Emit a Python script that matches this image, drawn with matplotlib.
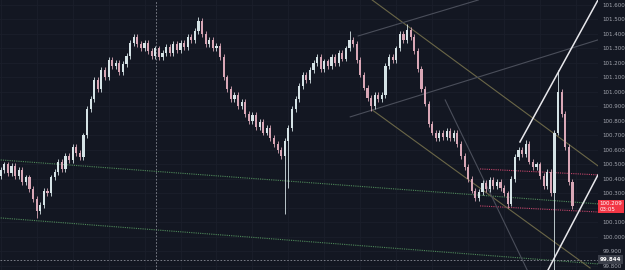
import matplotlib
matplotlib.use("Agg")
import matplotlib.pyplot as plt
import matplotlib.transforms as mtransforms

# closing prices, one per candle
closes = [
    100.46, 100.50, 100.44, 100.49, 100.42, 100.46, 100.38, 100.41, 100.33, 100.26,
    100.18, 100.22, 100.32, 100.30, 100.41, 100.45, 100.52, 100.47, 100.56, 100.53,
    100.62, 100.58, 100.55, 100.70, 100.88, 100.95, 101.08, 101.02, 101.15, 101.10,
    101.22, 101.18, 101.20, 101.14, 101.19, 101.25, 101.34, 101.38, 101.33, 101.30,
    101.34, 101.28, 101.25, 101.30, 101.24, 101.27, 101.31, 101.27, 101.33, 101.29,
    101.34, 101.31, 101.38, 101.36, 101.42, 101.49, 101.40, 101.33, 101.36, 101.30,
    101.32, 101.24, 101.10, 101.02, 100.95, 100.98, 100.90, 100.93, 100.85, 100.80,
    100.84, 100.76, 100.79, 100.72, 100.75, 100.68, 100.64, 100.60, 100.56, 100.66,
    100.75, 100.88, 100.95, 101.04, 101.12, 101.08, 101.15, 101.20, 101.24, 101.16,
    101.21, 101.18, 101.24, 101.20, 101.27, 101.23, 101.30, 101.36, 101.33, 101.22,
    101.12, 101.03, 100.96, 100.90, 100.98, 100.95, 100.98, 101.18, 101.24, 101.22,
    101.30, 101.40, 101.36, 101.43, 101.38, 101.28, 101.16, 101.02, 100.92, 100.78,
    100.72, 100.68, 100.72, 100.69, 100.73, 100.68, 100.72, 100.64, 100.56, 100.48,
    100.40, 100.32, 100.27, 100.31, 100.37, 100.33, 100.39, 100.35, 100.38, 100.34,
    100.30, 100.23, 100.40, 100.55, 100.60, 100.57, 100.64, 100.52, 100.48, 100.50,
    100.42, 100.35, 100.45, 100.30, 100.72, 101.00, 100.85, 100.62, 100.38, 100.21,
]
first_open = 100.42

# long wicks: candle index -> price
spike_highs = {55: 101.52, 97: 101.42, 113: 101.47, 155: 101.15, 146: 100.67}
spike_lows = {10: 100.13, 79: 100.16, 80: 100.34, 103: 100.87, 141: 100.20, 154: 99.75}

# right axis (100.200 sits under the price label)
price_ticks = [101.6, 101.5, 101.4, 101.3, 101.2, 101.1, 101.0, 100.9, 100.8, 100.7,
               100.6, 100.5, 100.4, 100.3, 100.2, 100.1, 100.0, 99.9, 99.8]
hidden_tick = 100.2
last_price = 100.209
countdown = "03:05"
cross_price = 99.844
cross_index = 43.1

# drawings: (index, price) end points
green_lines = [[(0, 100.531), (166.1, 100.228)], [(0, 100.131), (166.1, 99.814)]]
pink_lines = [[(133.3, 100.469), (166.1, 100.428)], [(133.3, 100.214), (166.1, 100.172)]]
olive_lines = [[(103.3, 101.634), (166.1, 100.49)], [(103.3, 100.876), (163.9, 99.786)]]
grey_lines = [[(99.4, 101.386), (132.8, 101.634)], [(97.2, 100.828), (166.1, 101.359)],
              [(123.6, 100.945), (146.4, 99.772)]]
white_lines = [[(144.4, 100.655), (166.1, 101.634)], [(152.2, 99.772), (166.1, 100.428)]]

bg = "#131722"
up_col = "#d5e3e6"
down_col = "#d9a7b6"

opens = [first_open] + closes[:-1]

fig = plt.figure(figsize=(6.25, 2.7), dpi=100, facecolor=bg)
ax = fig.add_axes([0, 0, 598 / 625, 1])
ax.set_facecolor(bg)
ax.set_xlim(-0.2, 166.1)
ax.set_ylim(99.772, 101.634)

# faint grid
for p in price_ticks:
    ax.axhline(p, color="#1b1f2b", lw=0.6, zorder=0)
for gx in range(0, 170, 10):
    ax.axvline(gx, color="#1b1f2b", lw=0.6, zorder=0)

# drawings under the candles
for seg in green_lines:
    ax.plot([seg[0][0], seg[1][0]], [seg[0][1], seg[1][1]], color="#4f8a5a", lw=0.8,
            ls=(0, (1, 1)), zorder=1)
for seg in pink_lines:
    ax.plot([seg[0][0], seg[1][0]], [seg[0][1], seg[1][1]], color="#c2456a", lw=0.8,
            ls=(0, (1, 1)), zorder=1)
for seg in olive_lines:
    ax.plot([seg[0][0], seg[1][0]], [seg[0][1], seg[1][1]], color="#6a6647", lw=0.8, zorder=1)
for seg in grey_lines:
    ax.plot([seg[0][0], seg[1][0]], [seg[0][1], seg[1][1]], color="#4a4e5a", lw=0.8, zorder=1)

# crosshair
ax.axhline(cross_price, color="#8a8d96", lw=0.6, ls=(0, (2, 2)), zorder=1)
ax.axvline(cross_index, color="#8a8d96", lw=0.6, ls=(0, (2, 2)), zorder=1)

# candles
for i, (o, c) in enumerate(zip(opens, closes)):
    col = up_col if c >= o else down_col
    hi = spike_highs.get(i, max(o, c) + 0.02)
    lo = spike_lows.get(i, min(o, c) - 0.02)
    ax.vlines(i, lo, hi, color=col, lw=0.6, zorder=3)
    ax.bar(i, max(abs(c - o), 0.006), bottom=min(o, c), width=0.6, color=col,
           linewidth=0, zorder=3)

for seg in white_lines:
    ax.plot([seg[0][0], seg[1][0]], [seg[0][1], seg[1][1]], color="#e8e8ec", lw=1.1, zorder=4)

# right price scale
ax.yaxis.tick_right()
ax.set_yticks(price_ticks)
ax.set_yticklabels(["" if p == hidden_tick else "%.3f" % p for p in price_ticks])
ax.tick_params(axis="y", length=0, pad=3, labelsize=4, labelcolor="#a3a6af")
ax.set_xticks([])
for s in ax.spines.values():
    s.set_visible(False)

trans = mtransforms.blended_transform_factory(ax.transAxes, ax.transData)
ax.text(1.003, last_price, "%.3f\n%s" % (last_price, countdown), transform=trans,
        fontsize=4, color="white", va="center", ha="left", linespacing=1.1,
        bbox=dict(boxstyle="square,pad=0.3", fc="#f23645", ec="none"), zorder=6,
        clip_on=False)
ax.text(1.003, cross_price, "%.3f" % cross_price, transform=trans, fontsize=4,
        color="white", va="center", ha="left", fontweight="bold",
        bbox=dict(boxstyle="square,pad=0.3", fc="#3b3f4a", ec="none"), zorder=6,
        clip_on=False)

fig.savefig("out.png", dpi=100, facecolor=bg)
